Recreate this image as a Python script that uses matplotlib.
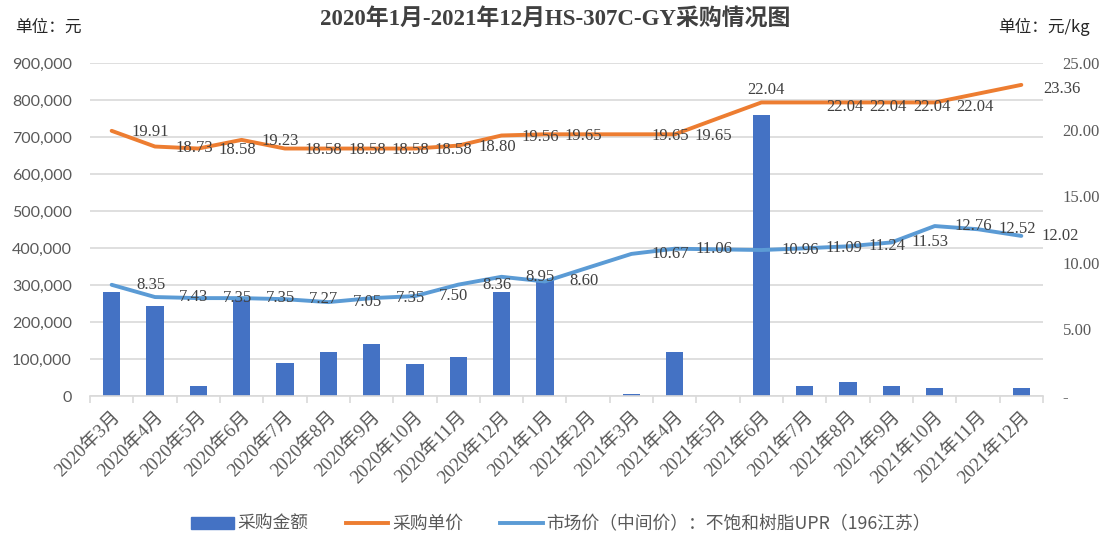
import matplotlib
matplotlib.use("Agg")
import matplotlib.pyplot as plt
from matplotlib.ticker import FuncFormatter, MultipleLocator, FixedLocator
from matplotlib.patches import Patch
from matplotlib.lines import Line2D

plt.rcParams['font.family'] = ['Liberation Serif', 'Noto Sans CJK SC', 'DejaVu Sans']

months = ["2020年3月", "2020年4月", "2020年5月", "2020年6月", "2020年7月", "2020年8月",
          "2020年9月", "2020年10月", "2020年11月", "2020年12月", "2021年1月", "2021年2月",
          "2021年3月", "2021年4月", "2021年5月", "2021年6月", "2021年7月", "2021年8月",
          "2021年9月", "2021年10月", "2021年11月", "2021年12月"]
purchase_amount = [281000, 242000, 27000, 260000, 89000, 119000, 140000, 86000, 105000,
                   281000, 313000, 0, 6000, 119000, 0, 760000, 28000, 38000, 28000,
                   22000, 0, 22000]
unit_price = [19.91, 18.73, 18.58, 19.23, 18.58, 18.58, 18.58, 18.58, 18.80, 19.56, 19.65,
              19.65, 19.65, 19.65, 20.85, 22.04, 22.04, 22.04, 22.04, 22.04, 22.70, 23.36]
unit_price_labels = ["19.91", "18.73", "18.58", "19.23", "18.58", "18.58", "18.58", "18.58",
                     "18.80", "19.56", "19.65", "", "19.65", "19.65", "", "22.04", "22.04",
                     "22.04", "22.04", "22.04", "", "23.36"]
market_price = [8.35, 7.43, 7.35, 7.35, 7.27, 7.05, 7.35, 7.50, 8.36, 8.95, 8.60, 9.64,
                10.67, 11.06, 11.01, 10.96, 11.09, 11.24, 11.53, 12.76, 12.52, 12.02]
market_price_labels = ["8.35", "7.43", "7.35", "7.35", "7.27", "7.05", "7.35", "7.50", "8.36",
                       "8.95", "8.60", "", "10.67", "11.06", "", "10.96", "11.09", "11.24",
                       "11.53", "12.76", "12.52", "12.02"]

title = "2020年1月-2021年12月HS-307C-GY采购情况图"
legend_labels = ["采购金额", "采购单价", "市场价（中间价）：不饱和树脂UPR（196江苏）"]

BAR = "#4472C4"
ORANGE = "#ED7D31"
LBLUE = "#5B9BD5"
GRID = "#D9D9D9"
TXT = "#595959"
LBL = "#404040"

fig = plt.figure(figsize=(11.11, 5.41), dpi=100)
ax = fig.add_axes([0.081, 0.268, 0.8578, 0.6155])
ax2 = ax.twinx()

x = list(range(len(months)))
ax.bar(x, purchase_amount, width=0.4, color=BAR, zorder=2)
ax.set_ylim(0, 900000)
ax.set_xlim(-0.5, len(months) - 0.5)
ax.yaxis.set_major_locator(MultipleLocator(100000))
ax.yaxis.set_major_formatter(FuncFormatter(lambda v, p: f"{v:,.0f}"))
ax.grid(axis='y', color=GRID, linewidth=1.2, zorder=0)
ax.set_axisbelow(True)
for s in ['top', 'right', 'left']:
    ax.spines[s].set_visible(False)
ax.spines['bottom'].set_color(GRID)
ax.spines['bottom'].set_linewidth(1.2)
ax.tick_params(axis='y', length=0, pad=13, labelcolor=TXT, labelsize=11.5)
for lab in ax.get_yticklabels():
    lab.set_fontfamily(['Lato', 'DejaVu Sans'])

ax.set_xticks(x)
ax.set_xticklabels(months, rotation=45, ha='right', va='top', rotation_mode='anchor',
                   fontsize=13.5, color=TXT)
ax.tick_params(axis='x', which='major', length=0, pad=9)
ax.xaxis.set_minor_locator(FixedLocator([i + 0.5 for i in range(-1, len(months))]))
ax.tick_params(axis='x', which='minor', length=5, color=GRID, width=1.2)

ax2.plot(x, unit_price, color=ORANGE, linewidth=2.8, solid_joinstyle='round',
         solid_capstyle='round', zorder=3)
ax2.plot(x, market_price, color=LBLUE, linewidth=2.8, solid_joinstyle='round',
         solid_capstyle='round', zorder=3)
ax2.set_ylim(0, 25)
ax2.yaxis.set_major_locator(MultipleLocator(5))
ax2.yaxis.set_major_formatter(FuncFormatter(lambda v, p: "-" if abs(v) < 1e-9 else f"{v:.2f}"))
for s in ['top', 'right', 'left', 'bottom']:
    ax2.spines[s].set_visible(False)
ax2.tick_params(axis='y', length=0, pad=14, labelcolor=TXT, labelsize=12)

for i, (v, t) in enumerate(zip(unit_price, unit_price_labels)):
    if not t:
        continue
    if i == 15:
        off = (3, 9)
    elif i >= 16:
        off = (29, -3)
    else:
        off = (28, -1)
    ax2.annotate(t, (i, v), xytext=off, textcoords='offset points', ha='center',
                 va='center', fontsize=12, color=LBL, zorder=4)
for i, (v, t) in enumerate(zip(market_price, market_price_labels)):
    if not t:
        continue
    ax2.annotate(t, (i, v), xytext=(28, 0), textcoords='offset points', ha='center',
                 va='center', fontsize=12, color=LBL, zorder=4)

fig.text(0.5, 0.966, title, ha='center', va='center', fontsize=16.5, fontweight='bold',
         color=LBL)
fig.text(0.014, 0.95, "单位：元", ha='left', va='center', fontsize=12, color='#262626',
         family=['Noto Sans CJK SC'])
fig.text(0.981, 0.95, "单位：元/kg", ha='right', va='center', fontsize=12, color='#262626',
         family=['Noto Sans CJK SC', 'Liberation Serif'])

handles = [Patch(facecolor=BAR, edgecolor=BAR),
           Line2D([0], [0], color=ORANGE, linewidth=2.8),
           Line2D([0], [0], color=LBLUE, linewidth=2.8)]
leg = fig.legend(handles, legend_labels, loc='center', bbox_to_anchor=(0.505, 0.031),
                 ncol=3, frameon=False, handlelength=2.4, handleheight=0.6,
                 handletextpad=0.2, columnspacing=2.1,
                 prop={'family': ['Noto Sans CJK SC'], 'size': 12.8})
for t in leg.get_texts():
    t.set_color(TXT)

fig.savefig("out.png", dpi=100)
